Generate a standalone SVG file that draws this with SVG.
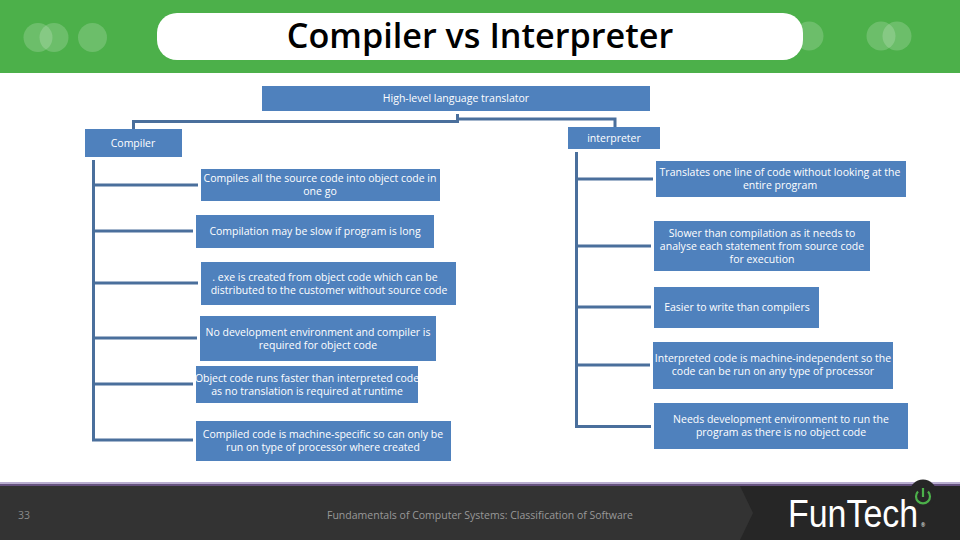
<svg xmlns="http://www.w3.org/2000/svg" width="960" height="540" viewBox="0 0 960 540">
<style>
text{font-family:"Open Sans","Noto Sans",sans-serif;fill:#fff;font-size:10.5px;text-anchor:middle}
.b{fill:#4f81bd}
.c{fill:none;stroke:#4a6f9c;stroke-width:3}
.d{fill:#fff;fill-opacity:.18}
.f{fill:#999}
</style>
<rect width="960" height="540" fill="#fff"/>
<g id="header">
<rect width="960" height="73" fill="#4cb04a"/>
<circle class="d" cx="38" cy="37.500" r="14.500"/><circle class="d" cx="54" cy="37.500" r="14.500"/><circle class="d" cx="92.500" cy="37.500" r="14.500"/>
<circle class="d" cx="809" cy="36" r="14.500"/><circle class="d" cx="881" cy="36" r="14.500"/><circle class="d" cx="897" cy="36" r="14.500"/>
<rect x="157" y="13" width="646" height="47" rx="20" fill="#fff"/>
<text x="480" y="48" style="font-size:34.200px;font-weight:600;fill:#000">Compiler vs Interpreter</text>
</g>
<g id="connectors">
<path class="c" d="M133.500 129V121.500H457.500V114M457.500 119H615V127"/>
<path class="c" d="M93.500 160V440H193M93.500 185H198M93.500 231H193M93.500 283H198M93.500 338H197M93.500 384H193"/>
<path class="c" d="M576.500 152V426.500H651M576.500 179H653M576.500 246H651M576.500 307H651M576.500 365H650"/>
</g>
<g id="top"><rect class="b" x="262" y="86" width="388" height="25"/><text x="456" y="102">High-level language translator</text></g>
<g id="compiler"><rect class="b" x="85" y="129" width="97" height="28"/><text x="133" y="147">Compiler</text></g>
<g id="interpreter"><rect class="b" x="568" y="127" width="92" height="22"/><text x="614" y="142">interpreter</text></g>
<g id="c1"><rect class="b" x="201" y="169" width="239" height="32"/><text x="320" y="182">Compiles all the source code into object code in</text><text x="320" y="195">one go</text></g>
<g id="c2"><rect class="b" x="196" y="215" width="238" height="33"/><text x="315" y="235">Compilation may be slow if program is long</text></g>
<g id="c3"><rect class="b" x="201" y="262" width="255" height="43"/><text x="325" y="281">. exe is created from object code which can be</text><text x="329" y="294">distributed to the customer without source code</text></g>
<g id="c4"><rect class="b" x="200" y="316" width="236" height="45"/><text x="318" y="336">No development environment and compiler is</text><text x="318" y="349">required for object code</text></g>
<g id="c5"><rect class="b" x="196" y="366" width="222" height="37"/><text x="307" y="382">Object code runs faster than interpreted code</text><text x="307" y="395">as no translation is required at runtime</text></g>
<g id="c6"><rect class="b" x="196" y="421" width="255" height="40"/><text x="323" y="438">Compiled code is machine-specific so can only be</text><text x="323" y="451">run on type of processor where created</text></g>
<g id="i1"><rect class="b" x="656" y="161" width="250" height="36"/><text x="780" y="176">Translates one line of code without looking at the</text><text x="780" y="189">entire program</text></g>
<g id="i2"><rect class="b" x="654" y="221" width="216" height="50"/><text x="762" y="237">Slower than compilation as it needs to</text><text x="762" y="250">analyse each statement from source code</text><text x="762" y="263">for execution</text></g>
<g id="i3"><rect class="b" x="654" y="287" width="165" height="41"/><text x="737" y="311">Easier to write than compilers</text></g>
<g id="i4"><rect class="b" x="653" y="342" width="240" height="47"/><text x="773" y="362">Interpreted code is machine-independent so the</text><text x="773" y="375">code can be run on any type of processor</text></g>
<g id="i5"><rect class="b" x="654" y="403" width="254" height="46"/><text x="781" y="423">Needs development environment to run the</text><text x="781" y="436">program as there is no object code</text></g>
<g id="footer">
<rect y="482" width="960" height="58" fill="#262626"/>
<rect y="482" width="960" height="2" fill="#b9aed0"/>
<rect y="484" width="960" height="2" fill="#66527f"/>
<path d="M0 486H740L753 513L740 540H0Z" fill="#333"/>
<circle cx="923" cy="493" r="13.500" fill="#262626"/>
<path d="M918 491.500a7 7 0 1 0 10 0M923 488v9" fill="none" stroke="#4cb04a" stroke-width="2.200"/>
<text x="24" y="519" class="f" style="fill:#8a8a8a">33</text>
<text x="480" y="519" class="f">Fundamentals of Computer Systems: Classification of Software</text>
<text transform="translate(788 527) scale(.87 1)" style="font-size:39px;font-family:'Liberation Sans',sans-serif;text-anchor:start">FunTech</text>
<text x="921" y="527" style="font-size:5px;text-anchor:start">®</text>
</g>
</svg>
